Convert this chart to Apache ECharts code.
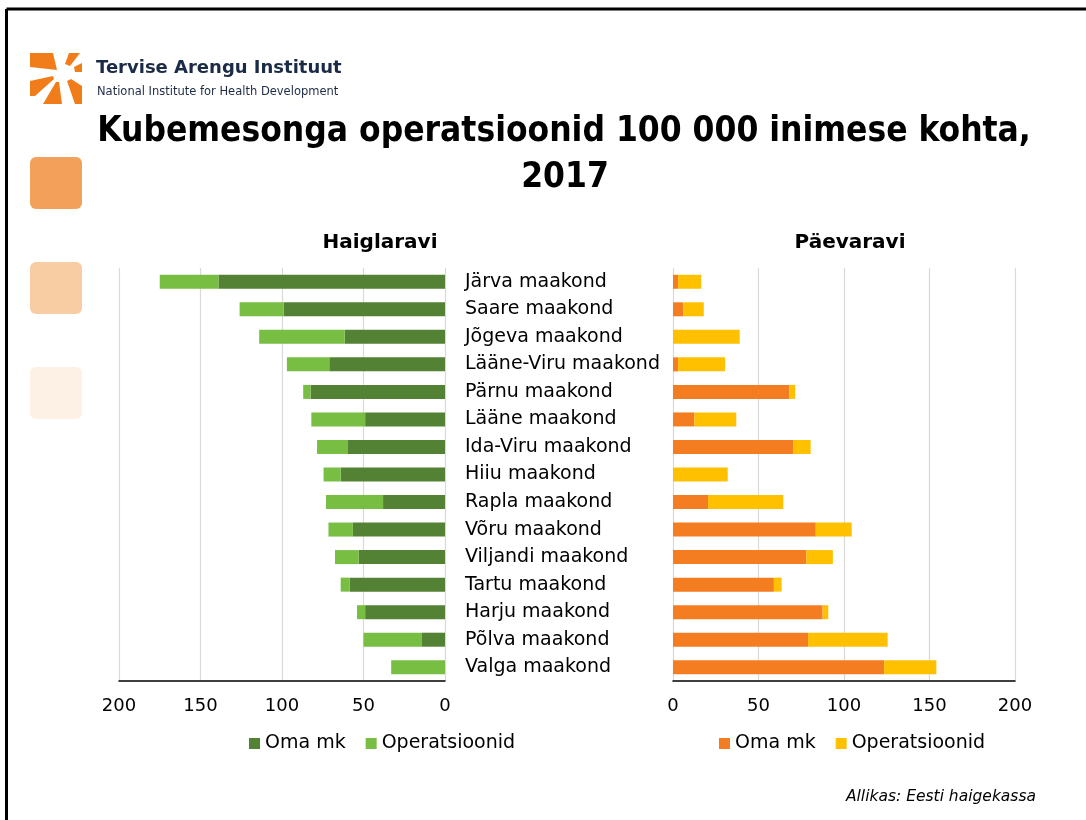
<!DOCTYPE html>
<html>
<head>
<meta charset="utf-8">
<script src="https://cdn.jsdelivr.net/npm/echarts@6/dist/echarts.min.js"></script>
<style>
  html, body { margin: 0; padding: 0; background: #fff; }
  #main { width: 1086px; height: 820px; }
</style>
</head>
<body>
<div id="main"></div>
<script>
// maakonnad, ülevalt alla
const regions = [
  "Järva maakond", "Saare maakond", "Jõgeva maakond", "Lääne-Viru maakond",
  "Pärnu maakond", "Lääne maakond", "Ida-Viru maakond", "Hiiu maakond",
  "Rapla maakond", "Võru maakond", "Viljandi maakond", "Tartu maakond",
  "Harju maakond", "Põlva maakond", "Valga maakond"
];
// Haiglaravi
const hospOwn = [139, 99, 61.5, 71, 82.5, 49, 59.5, 64, 38, 56.5, 53, 58.5, 49, 14.5, 0];
const hospOps = [36, 27, 52.5, 26, 4.5, 33, 19, 10.5, 35, 15, 14.5, 5.5, 5, 35.5, 33];
// Päevaravi
const dayOwn = [3, 6, 0, 3, 68, 12.5, 70.5, 0, 20.5, 83.5, 78, 59, 87.5, 79, 123.5];
const dayOps = [13.5, 12, 39, 27.5, 3.5, 24.5, 10, 32, 44, 21, 15.5, 4.5, 3.3, 46.5, 30.5];
const xTicks = [0, 50, 100, 150, 200];

const font = "DejaVu Sans";
const cDark = "#548235", cLight = "#77BE43", cOrange = "#F47D22", cYellow = "#FFC000";
const cLogo = "#F07D1A";

const chart = echarts.init(document.getElementById("main"));

const xAxisBase = {
  type: "value",
  min: xTicks[0],
  max: xTicks[xTicks.length - 1],
  interval: 50,
  axisLine: { show: true, onZero: false, lineStyle: { color: "#000", width: 1.5 } },
  axisTick: { show: false },
  axisLabel: { fontFamily: font, fontSize: 18, color: "#000", margin: 16 },
  splitLine: { show: true, lineStyle: { color: "#d9d9d9", width: 1.2 } }
};

const barBase = { type: "bar", barWidth: 14 };

const legendBase = {
  top: 734, padding: 0, itemWidth: 11, itemHeight: 11, itemGap: 20,
  icon: "rect", selectedMode: false,
  textStyle: { fontFamily: font, fontSize: 19, color: "#000", padding: [0, 0, 0, 0] }
};

chart.setOption({
  animation: false,
  textStyle: { fontFamily: font },
  grid: [
    { left: 119, right: 641, top: 268, height: 413 },
    { left: 673, right: 71, top: 268, height: 413 }
  ],
  xAxis: [
    Object.assign({}, xAxisBase, { gridIndex: 0, inverse: true }),
    Object.assign({}, xAxisBase, { gridIndex: 1 })
  ],
  yAxis: [
    { type: "category", gridIndex: 0, data: regions, inverse: true, show: false },
    {
      type: "category", gridIndex: 1, data: regions, inverse: true,
      axisLine: { show: false }, axisTick: { show: false },
      axisLabel: { align: "left", margin: 208, fontFamily: font, fontSize: 19, color: "#000", padding: [3, 0, 0, 0] }
    }
  ],
  legend: [
    Object.assign({}, legendBase, {
      left: 249,
      data: [
        { name: "Oma mk", itemStyle: { color: cDark } },
        { name: "Operatsioonid", itemStyle: { color: cLight } }
      ]
    }),
    Object.assign({}, legendBase, {
      left: 719,
      data: [
        { name: "Oma mk", itemStyle: { color: cOrange } },
        { name: "Operatsioonid", itemStyle: { color: cYellow } }
      ]
    })
  ],
  series: [
    Object.assign({}, barBase, { name: "Oma mk", id: "hOwn", stack: "h", xAxisIndex: 0, yAxisIndex: 0, data: hospOwn, itemStyle: { color: cDark } }),
    Object.assign({}, barBase, { name: "Operatsioonid", id: "hOps", stack: "h", xAxisIndex: 0, yAxisIndex: 0, data: hospOps, itemStyle: { color: cLight } }),
    Object.assign({}, barBase, { name: "Oma mk", id: "dOwn", stack: "d", xAxisIndex: 1, yAxisIndex: 1, data: dayOwn, itemStyle: { color: cOrange } }),
    Object.assign({}, barBase, { name: "Operatsioonid", id: "dOps", stack: "d", xAxisIndex: 1, yAxisIndex: 1, data: dayOps, itemStyle: { color: cYellow } })
  ],
  graphic: [
    // slaidi raam
    { type: "line", shape: { x1: 6.5, y1: 9, x2: 1086, y2: 9 }, style: { stroke: "#000", lineWidth: 3 } },
    { type: "line", shape: { x1: 6.5, y1: 9, x2: 6.5, y2: 820 }, style: { stroke: "#000", lineWidth: 3 } },
    // logo
    { type: "polygon", shape: { points: [[30, 53], [53, 53], [57, 70], [30, 67]] }, style: { fill: cLogo } },
    { type: "polygon", shape: { points: [[69, 53], [80, 53], [70, 66], [65, 64]] }, style: { fill: cLogo } },
    { type: "polygon", shape: { points: [[74, 67], [82, 63], [82, 72], [75, 72]] }, style: { fill: cLogo } },
    { type: "polygon", shape: { points: [[30, 81], [53, 76], [54, 79], [35, 96], [30, 96]] }, style: { fill: cLogo } },
    { type: "polygon", shape: { points: [[43, 104], [56, 82], [59, 82], [62, 104]] }, style: { fill: cLogo } },
    { type: "polygon", shape: { points: [[67, 81], [71, 79], [82, 86], [82, 104], [75, 104]] }, style: { fill: cLogo } },
    { type: "text", left: 96, top: 59, style: { text: "Tervise Arengu Instituut", fontFamily: font, fontWeight: "bold", fontSize: 18, fill: "#1c2b45" } },
    { type: "text", left: 97, top: 86, style: { text: "National Institute for Health Development", fontFamily: font, fontSize: 11.5, fill: "#1c2b45" } },
    // kaunistavad ruudud
    { type: "rect", shape: { x: 30, y: 157, width: 52, height: 52, r: 6 }, style: { fill: "#F3A05A" } },
    { type: "rect", shape: { x: 30, y: 262, width: 52, height: 52, r: 6 }, style: { fill: "#F9CDA3" } },
    { type: "rect", shape: { x: 30, y: 367, width: 52, height: 52, r: 6 }, style: { fill: "#FDF1E5" } },
    // pealkirjad
    { type: "text", x: 564, y: 132, style: { text: "Kubemesonga operatsioonid 100 000 inimese kohta,", fontFamily: "DejaVu Sans Condensed", fontWeight: "bold", fontSize: 35, fill: "#000", align: "center", verticalAlign: "middle" } },
    { type: "text", x: 565, y: 178, style: { text: "2017", fontFamily: "DejaVu Sans Condensed", fontWeight: "bold", fontSize: 35, fill: "#000", align: "center", verticalAlign: "middle" } },
    { type: "text", x: 380, y: 243, style: { text: "Haiglaravi", fontFamily: font, fontWeight: "bold", fontSize: 20, fill: "#000", align: "center", verticalAlign: "middle" } },
    { type: "text", x: 850, y: 243, style: { text: "Päevaravi", fontFamily: font, fontWeight: "bold", fontSize: 20, fill: "#000", align: "center", verticalAlign: "middle" } },
    { type: "text", x: 1036, y: 797, style: { text: "Allikas: Eesti haigekassa", fontFamily: font, fontStyle: "italic", fontSize: 15.5, fill: "#000", align: "right", verticalAlign: "middle" } }
  ]
});
</script>
</body>
</html>
